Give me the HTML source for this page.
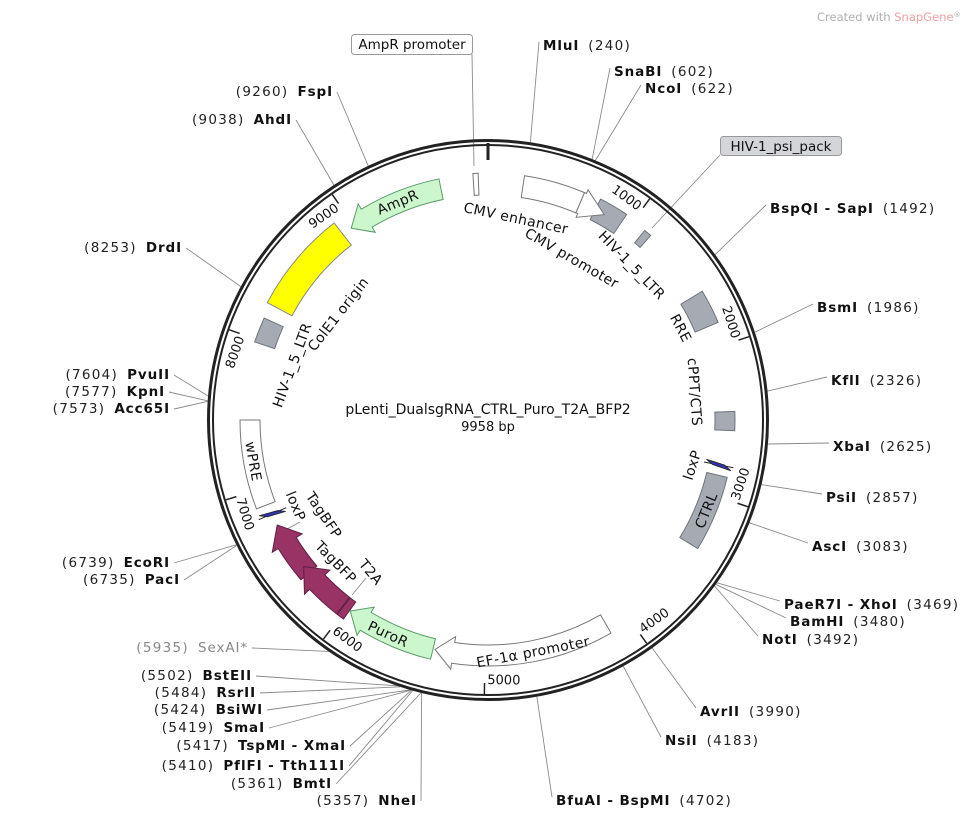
<!DOCTYPE html>
<html><head><meta charset="utf-8"><style>
html,body{margin:0;padding:0;background:#fff;}
svg{display:block;font-family:"DejaVu Sans","Liberation Sans",sans-serif;}
.n{font-weight:bold;font-size:13.5px;fill:#111;letter-spacing:0.9px;}
.p{font-size:13.5px;fill:#222;letter-spacing:1.3px;}
.f{font-size:14px;fill:#111;letter-spacing:0.4px;}
</style></head><body>
<svg id="s" width="977" height="821" viewBox="0 0 977 821" xmlns="http://www.w3.org/2000/svg">
<g id="lines" stroke="#8a8a8a" stroke-width="0.9" fill="none"></g>
<g id="shapes"></g>
<text x="817" y="21" font-size="11.5" fill="#b0b0b0">Created with <tspan fill="#f2a0a0">SnapGene</tspan><tspan font-size="7" dy="-4">®</tspan></text>
<text x="488" y="414" text-anchor="middle" font-size="14" fill="#111">pLenti_DualsgRNA_CTRL_Puro_T2A_BFP2</text>
<text x="488" y="431" text-anchor="middle" font-size="13" fill="#111">9958 bp</text>

<rect x="351.5" y="34.5" width="121" height="20" rx="3" fill="#fff" stroke="#999"/>
<text x="412" y="49" text-anchor="middle" font-size="13.5" fill="#111">AmpR promoter</text>
<rect x="720.5" y="136.5" width="121" height="19" rx="3" fill="#d3d5d9" stroke="#999"/>
<text x="781" y="151" text-anchor="middle" font-size="13.5" fill="#111">HIV-1_psi_pack</text>

<g id="rs"></g>
<g id="fl" class="f"></g>
</svg>
<script>
var cx=488,cy=420,NS="http://www.w3.org/2000/svg";
function P(a,r){var t=a*Math.PI/180;return [(cx+r*Math.sin(t)).toFixed(2),(cy-r*Math.cos(t)).toFixed(2)];}
function A(a1,a2,r){var l=Math.abs(a2-a1)>180?1:0,s=a2>a1?1:0,p=P(a2,r);return "A"+r+" "+r+" 0 "+l+" "+s+" "+p[0]+" "+p[1];}
function band(a1,a2,r1,r2){var p=P(a1,r2),q=P(a2,r1);return "M"+p+A(a1,a2,r2)+"L"+q+A(a2,a1,r1)+"Z";}
function arrow(a1,tip,r1,r2,hd,hl){var d=tip>a1?1:-1;hl=hl||4.5;var ab=tip-d*hl;var p=P(a1,r2);
return "M"+p+A(a1,ab,r2)+"L"+P(ab,r2+hd)+"L"+P(tip,(r1+r2)/2)+"L"+P(ab,r1-hd)+"L"+P(ab,r1)+A(ab,a1,r1)+"Z";}
function el(par,tag,at){var e=document.createElementNS(NS,tag);for(var k in at)e.setAttribute(k,at[k]);document.getElementById(par).appendChild(e);return e;}
function path(d,fill,stroke,sw){el("shapes","path",{d:d,fill:fill,stroke:stroke,"stroke-width":sw||1});}
function lox(a){var p1=P(a-0.8,222),p2=P(a+0.2,229),p3=P(a+0.8,248),p4=P(a-0.2,241);
el("shapes","line",{x1:P(a,220)[0],y1:P(a,220)[1],x2:P(a,250)[0],y2:P(a,250)[1],stroke:"#222","stroke-width":1});
el("shapes","path",{d:"M"+p1+"L"+p2+"L"+p3+"L"+p4+"Z",fill:"#3333aa",stroke:"#222","stroke-width":0.8});}
var G="#a6abb3",GS="#6f747b",GR="#ccf7cc",GRS="#5a9a6a",PU="#993366",PUS="#5e1f40";
el("shapes","circle",{cx:cx,cy:cy,r:279.5,fill:"none",stroke:"#222","stroke-width":3});
el("shapes","circle",{cx:cx,cy:cy,r:275,fill:"none",stroke:"#222","stroke-width":2});
el("shapes","line",{x1:488,y1:143,x2:488,y2:160,stroke:"#222","stroke-width":3});
path(band(-3.5,-2.3,225,247),"#fff","#777");
path(arrow(-11.5,-35.5,225,246,6),GR,GRS);
path(band(-38,-62,222,250),"#ffff00","#888");
path(band(-65.5,-71.5,225,246),G,GS);
path(band(-90,-111,228,248),"#fff","#777");
lox(-113.5);
path(arrow(-130.5,-116.5,225,246,7,5),PU,PUS);
path(arrow(-142,-128.5,225,246,7,5),PU,PUS);
path(band(-144,-142.2,225,246),PU,PUS);
path(arrow(-166.5,-144.2,225,246,6),GR,GRS);
path(arrow(150,193,225,246,6),"#fff","#777");
path(band(103.5,121.5,225,246),G,GS);
lox(101);
path(band(88,92.5,227,247),G,GS);
path(band(59,67,225,250),G,GS);
path(band(39.6,41.4,230,246),G,GS);
path(band(27,34,225,248),G,GS);
path(band(8.5,23,225,247),"#fff","#777");
path(arrow(23,29.5,225,247,4,6),"#fff","#777");
el("lines","line",{x1:472,y1:54,x2:474,y2:166});
el("lines","line",{x1:720,y1:155,x2:652,y2:228});
var tl=["1000","2000","3000","4000","5000","6000","7000","8000","9000"];
for(var k=1;k<=9;k++){var a=k*1000/9958*360;var p1=P(a,274),p2=P(a,263);
el("shapes","line",{x1:p1[0],y1:p1[1],x2:p2[0],y2:p2[1],stroke:"#222","stroke-width":1.5});
var isTop=(a<90||a>270);var rot=isTop?(a>180?a-360:a):a-180;var r=isTop?257:264;var q=P(a-0.6,r);
var t=el("shapes","text",{transform:"translate("+q[0]+","+q[1]+") rotate("+rot.toFixed(1)+")","text-anchor":isTop?"end":"start","font-size":"13",fill:"#111"});
t.textContent=tl[k-1];}
var FL=[["AmpR",-22.5,236],["PuroR",-155,236],["EF-1α promoter",169,236],["CTRL",112.5,236],["wPRE",-100,238]];
FL.forEach(function(f){var a=f[1];var isT=(a>-90&&a<90);var rot=isT?a:a-180;var q=P(a,f[2]);
var t=el("fl","text",{transform:"translate("+q[0]+","+q[1]+") rotate("+rot+")","text-anchor":"middle",dy:"5"});t.textContent=f[0];});
var FX=[["CMV enhancer",516,218,12],["CMV promoter",572,258,30],["HIV-1_5_LTR",632,265,46],["RRE",681,328,62],["cPPT/CTS",695,392,86],
["loxP",692,465,-72],["HIV-1_5_LTR",292,365,-70],["ColE1 origin",338,314,-52],["loxP",296,506,68],["TagBFP",324,515,56],["TagBFP",336,562,46],["T2A",371,572,50]];
FX.forEach(function(f){var t=el("fl","text",{transform:"translate("+f[1]+","+f[2]+") rotate("+f[3]+")","text-anchor":"middle",dy:"5"});t.textContent=f[0];});
el("lines","line",{x1:276,y1:535,x2:300,y2:522});
el("lines","line",{x1:352,y1:595,x2:366,y2:578});
var R=[["MluI","240",543,50],["SnaBI","602",614,76],["NcoI","622",645,93],["BspQI - SapI","1492",770,213],["BsmI","1986",817,312],["KflI","2326",831,385],["XbaI","2625",833,451],["PsiI","2857",826,502],["AscI","3083",812,551],["PaeR7I - XhoI","3469",784,609],["BamHI","3480",790,626],["NotI","3492",762,644],["AvrII","3990",700,716],["NsiI","4183",665,745],["BfuAI - BspMI","4702",556,805]];
var L=[["FspI","9260",333,96],["AhdI","9038",292,124],["DrdI","8253",182,252],["PvuII","7604",170,379],["KpnI","7577",165,396],["Acc65I","7573",170,413],["EcoRI","6739",170,567],["PacI","6735",180,584],["SexAI*","5935",248,652],["BstEII","5502",252,680],["RsrII","5484",256,697],["BsiWI","5424",263,714],["SmaI","5419",265,732],["TspMI - XmaI","5417",346,750],["PflFI - Tth111I","5410",345,770],["BmtI","5361",332,788],["NheI","5357",417,805]];
R.forEach(function(s){var a=+s[1]/9958*360,c=P(a,281);el("lines","line",{x1:c[0],y1:c[1],x2:s[2]-4,y2:s[3]-8});
var t=el("rs","text",{x:s[2],y:s[3]});var a1=document.createElementNS(NS,"tspan");a1.setAttribute("class","n");a1.textContent=s[0];
var a2=document.createElementNS(NS,"tspan");a2.setAttribute("class","p");a2.textContent="("+s[1]+")";a2.setAttribute("dx","9");t.appendChild(a1);t.appendChild(a2);});
L.forEach(function(s){var a=+s[1]/9958*360,c=P(a,281);el("lines","line",{x1:c[0],y1:c[1],x2:s[2]+4,y2:s[3]-4});
var t=el("rs","text",{x:s[2],y:s[3],"text-anchor":"end"});var a1=document.createElementNS(NS,"tspan");a1.setAttribute("class","p");a1.textContent="("+s[1]+")";
var a2=document.createElementNS(NS,"tspan");a2.setAttribute("class","n");a2.setAttribute("dx","9");a2.textContent=s[0];
if(s[0]=="SexAI*"){a1.setAttribute("style","fill:#888");a2.setAttribute("style","fill:#888;font-weight:normal");}
t.appendChild(a1);t.appendChild(a2);});
</script>
</body></html>
